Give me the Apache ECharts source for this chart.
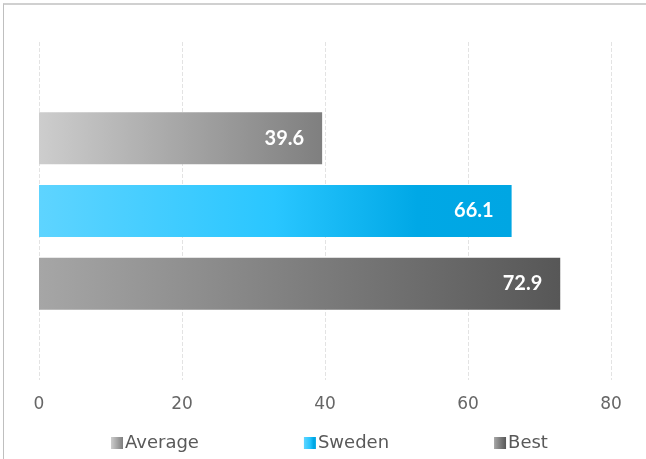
<!DOCTYPE html>
<html>
<head>
<meta charset="utf-8">
<script src="https://cdn.jsdelivr.net/npm/echarts@6/dist/echarts.min.js"></script>
<style>
html,body{margin:0;padding:0;background:#fff;}
#frame{position:absolute;left:3px;top:3px;width:700px;height:500px;border-left:1px solid #bfbfbf;border-top:2px solid #d0d0d0;box-sizing:border-box;}
#chart{position:absolute;left:0;top:0;width:646px;height:459px;}
</style>
</head>
<body>
<div id="frame"></div>
<div id="chart"></div>
<script>
const categories = ['Score'];
const seriesNames = ['Average', 'Sweden', 'Best'];
const averageValues = [39.6];
const swedenValues = [66.1];
const bestValues = [72.9];
const xTicks = [0, 20, 40, 60, 80];

function grad(stops) {
  return new echarts.graphic.LinearGradient(0, 0, 1, 0,
    stops.map(s => ({ offset: s[0], color: s[1] })));
}
const colors = [
  grad([[0, '#cdcdcd'], [1, '#7f7f7f']]),
  grad([[0, '#5ed4ff'], [0.5, '#29c6ff'], [0.8, '#00a8e6'], [1, '#00a6e3']]),
  grad([[0, '#a6a6a6'], [1, '#575757']])
];
const dataSets = [averageValues, swedenValues, bestValues];

const chart = echarts.init(document.getElementById('chart'), null, { renderer: 'canvas' });
chart.setOption({
  animation: false,
  backgroundColor: 'transparent',
  textStyle: { fontFamily: '"DejaVu Sans", sans-serif' },
  grid: { left: 39, right: 35, top: 42, bottom: 79, containLabel: false },
  legend: {
    top: 429,
    left: 106,
    itemWidth: 12,
    itemHeight: 12,
    itemGap: 105,
    icon: 'rect',
    textStyle: { color: '#595959', fontSize: 18, fontFamily: '"DejaVu Sans", sans-serif', padding: [0, 0, 0, -3] },
    data: seriesNames
  },
  xAxis: {
    type: 'value',
    min: xTicks[0],
    max: xTicks[xTicks.length - 1],
    interval: 20,
    axisLine: { show: false },
    axisTick: { show: false },
    axisLabel: { color: '#666666', fontSize: 17, margin: 16, fontFamily: '"DejaVu Sans", sans-serif' },
    splitLine: { show: true, lineStyle: { color: '#e3e3e3', type: [4, 2], width: 1 } }
  },
  yAxis: {
    type: 'category',
    data: categories,
    inverse: true,
    show: false
  },
  series: seriesNames.map((name, i) => ({
    name: name,
    type: 'bar',
    data: dataSets[i],
    barWidth: 52,
    barGap: '40%',
    itemStyle: { color: colors[i] },
    label: {
      show: true,
      position: 'insideRight',
      distance: 18,
      color: '#ffffff',
      fontWeight: 'bold',
      fontSize: 20,
      fontFamily: 'Lato, sans-serif',
      formatter: (p) => p.value.toFixed(1)
    }
  }))
});
</script>
</body>
</html>
